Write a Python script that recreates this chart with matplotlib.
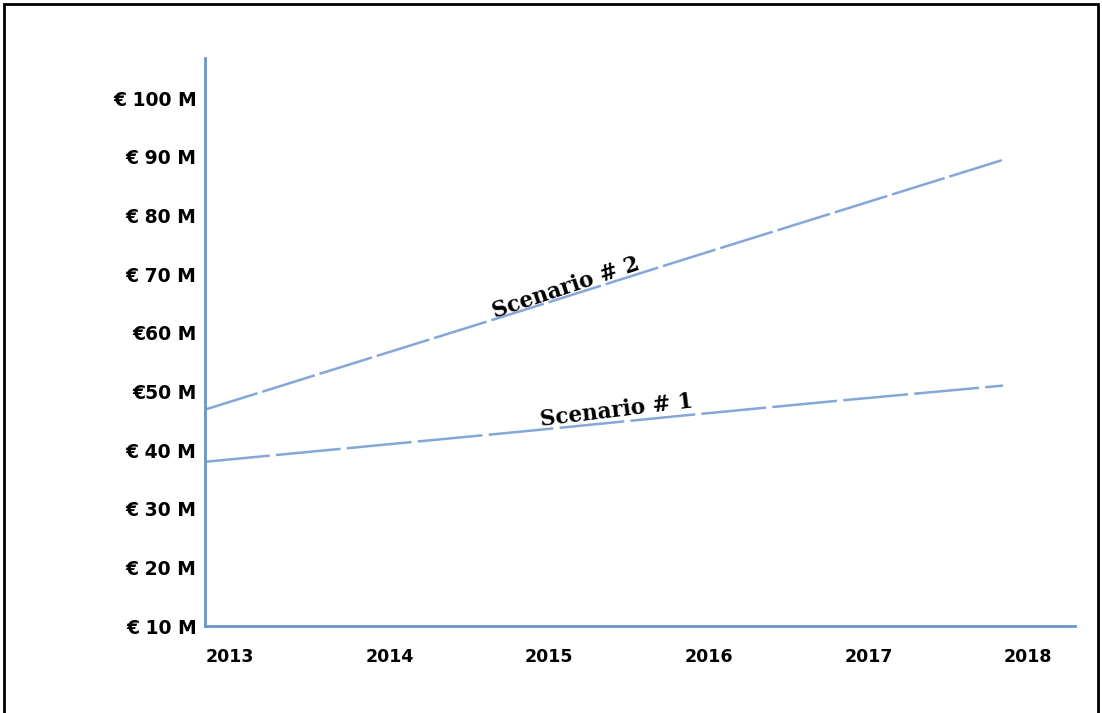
import matplotlib
matplotlib.use("Agg")
import matplotlib.pyplot as plt
import matplotlib.transforms as mtransforms
from matplotlib.patches import Rectangle

years = [2013, 2014, 2015, 2016, 2017, 2018]
scenario1 = [38.0, 40.6, 43.2, 45.9, 48.5, 51.0]
scenario2 = [46.9, 55.4, 63.9, 72.5, 81.0, 89.5]
year_labels = ["2013", "2014", "2015", "2016", "2017", "2018"]
y_ticks = [10, 20, 30, 40, 50, 60, 70, 80, 90, 100]
y_labels = ["€ 10 M", "€ 20 M", "€ 30 M", "€ 40 M", "€50 M", "€60 M",
            "€ 70 M", "€ 80 M", "€ 90 M", "€ 100 M"]

line_color = "#84a6d8"
axis_color = "#6b93cc"

fig = plt.figure(figsize=(11.02, 7.13), dpi=100)
ax = fig.add_axes([0.186, 0.122, 0.7895, 0.797])

ax.plot(years, scenario2, color=line_color, lw=1.8, dashes=(22, 2), solid_capstyle="butt")
ax.plot(years, scenario1, color=line_color, lw=1.8, dashes=(26, 2.5), solid_capstyle="butt")

ax.set_xlim(2013, 2018.45)
ax.set_ylim(10, 106.9)

for side in ["top", "right"]:
    ax.spines[side].set_visible(False)
for side in ["left", "bottom"]:
    ax.spines[side].set_color(axis_color)
    ax.spines[side].set_linewidth(2)

ax.set_yticks(y_ticks)
ax.set_yticklabels(y_labels, fontsize=13.5, fontweight="bold", family="DejaVu Sans")
ax.set_xticks(years)
ax.set_xticklabels(year_labels, fontsize=12.5, fontweight="bold", family="DejaVu Sans")
ax.tick_params(axis="both", length=0)
ax.tick_params(axis="y", pad=6)
ax.tick_params(axis="x", pad=16)
offset = mtransforms.ScaledTranslation(25 / 100, 0, fig.dpi_scale_trans)
for lab in ax.get_xticklabels():
    lab.set_transform(lab.get_transform() + offset)

ax.text(2015.26, 67.6, "Scenario # 2", rotation=18.5, fontsize=15.5, fontweight="bold",
        family="DejaVu Serif", ha="center", va="center", rotation_mode="anchor")
ax.text(2015.58, 46.8, "Scenario # 1", rotation=7, fontsize=15.5, fontweight="bold",
        family="DejaVu Serif", ha="center", va="center", rotation_mode="anchor")

fig.patches.append(Rectangle((4 / 1102, -0.05), 1094 / 1102, 1.05 - 4 / 713,
                             transform=fig.transFigure, fill=False,
                             edgecolor="black", lw=2))

fig.savefig("out.png", dpi=100)
